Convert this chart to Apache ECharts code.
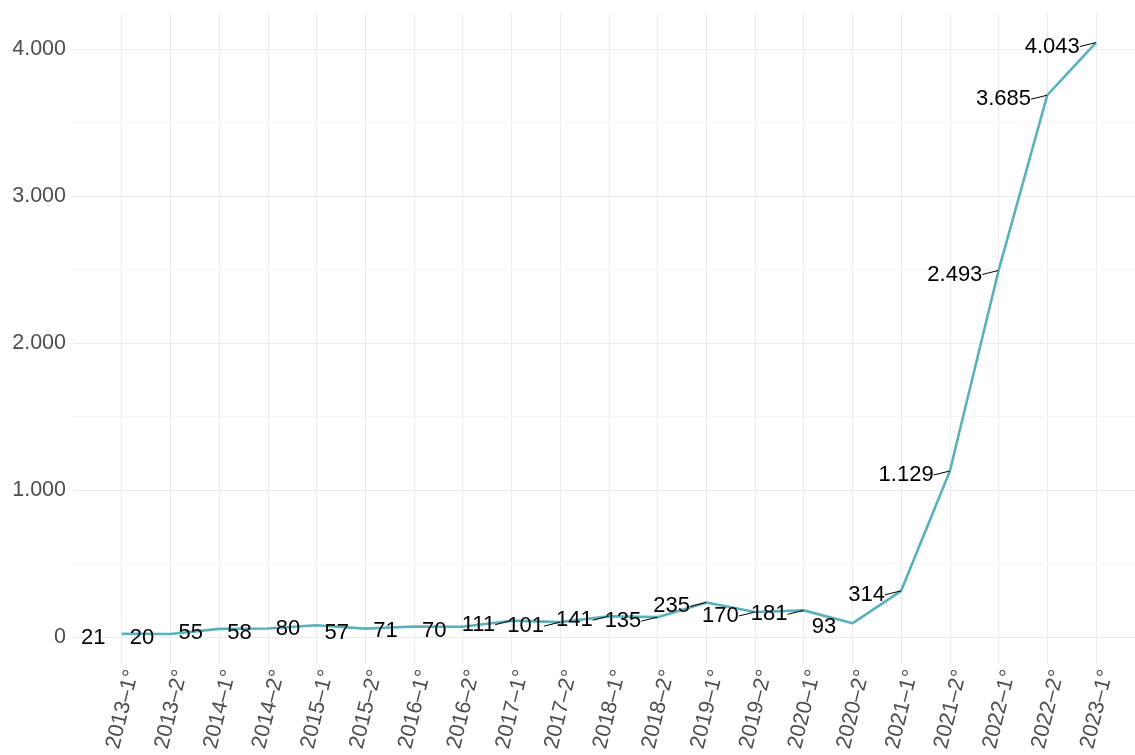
<!DOCTYPE html>
<html><head><meta charset="utf-8">
<script src="https://cdn.jsdelivr.net/npm/echarts@6/dist/echarts.min.js"></script>
<style>html,body{margin:0;padding:0;background:#fff}#c{width:1135px;height:755px}</style>
</head><body><div id="c"></div>
<script>
const categories = ['2013–1°','2013–2°','2014–1°','2014–2°','2015–1°','2015–2°','2016–1°','2016–2°',
  '2017–1°','2017–2°','2018–1°','2018–2°','2019–1°','2019–2°','2020–1°','2020–2°',
  '2021–1°','2021–2°','2022–1°','2022–2°','2023–1°'];
const values = [21,20,55,58,80,57,71,70,111,101,141,135,235,170,181,93,314,1129,2493,3685,4043];
const minorGridValues = [500,1500,2500,3500];

function fmt(v){ return String(Math.round(v)).replace(/\B(?=(\d{3})+(?!\d))/g,'.'); }

const FONT = 'Liberation Sans, Arial, Helvetica, sans-serif';
const chart = echarts.init(document.getElementById('c'), null, {renderer:'canvas'});
chart.setOption({
  animation:false,
  backgroundColor:'#fff',
  grid:{left:73,right:0,top:13,bottom:91.4,containLabel:false},
  xAxis:{
    type:'value', min:-1, max:20.8, interval:1,
    axisLine:{show:false}, axisTick:{show:false},
    axisLabel:{
      rotate:76, margin:4, color:'#4d4d4d', fontSize:21.5, fontFamily:FONT,
      verticalAlign:'top',
      showMinLabel:false, showMaxLabel:false,
      formatter:v => (Number.isInteger(v) && v>=0 && v<categories.length) ? categories[v] : ''
    },
    splitLine:{show:true, showMinLine:false, showMaxLine:false, lineStyle:{color:'#ebebeb',width:1}}
  },
  yAxis:{
    type:'value', min:-181, max:4244, splitNumber:5,
    axisLine:{show:false}, axisTick:{show:false},
    axisLabel:{
      margin:7, color:'#4d4d4d', fontSize:21.5, fontFamily:FONT,
      showMinLabel:false, showMaxLabel:false,
      formatter:v => (v % 1000 === 0) ? fmt(v) : ''
    },
    splitLine:{show:true, showMinLine:false, showMaxLine:false, lineStyle:{color:'#ebebeb',width:1}}
  },
  series:[
    {
      type:'line', z:1, data:[], silent:true,
      markLine:{
        silent:true, symbol:'none', label:{show:false}, z:1,
        lineStyle:{color:'#f4f4f4', width:1, type:'solid'},
        data:minorGridValues.map(v => ({yAxis:v}))
      }
    },
    {
      type:'line', z:10,
      data:values.map((v,i) => ({value:[i,v], labelLine:{show: v >= 100}})),
      symbol:'circle', symbolSize:0.5, showSymbol:true,
      itemStyle:{color:'#5AB1BB'},
      lineStyle:{color:'#5AB1BB', width:2.6},
      label:{
        show:true, position:'left', distance:1,
        color:'#000', fontSize:22, fontFamily:FONT,
        formatter:p => fmt(p.value[1])
      },
      labelLayout:{dx:-15, dy:4},
      labelLine:{show:false, lineStyle:{color:'#000', width:1}}
    }
  ]
});
</script></body></html>
